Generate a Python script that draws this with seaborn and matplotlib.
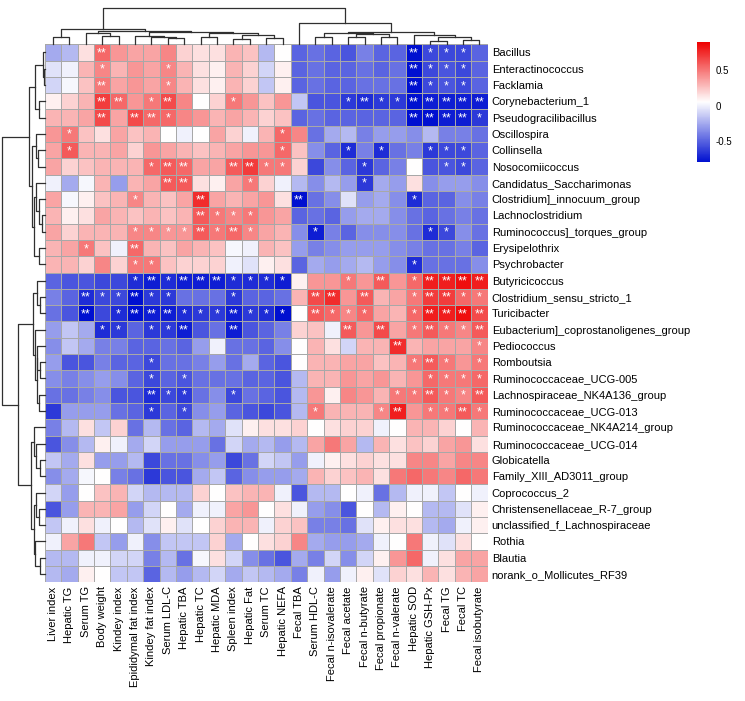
import numpy as np
import pandas as pd
import matplotlib
matplotlib.use("Agg")
import matplotlib.pyplot as plt
import seaborn as sns
from matplotlib.colors import LinearSegmentedColormap

# -----------------------------
# DATA (order as displayed after clustering)
# -----------------------------
genera = [
    "Bacillus", "Enteractinococcus", "Facklamia", "Corynebacterium_1",
    "Pseudogracilibacillus", "Oscillospira", "Collinsella", "Nosocomiicoccus",
    "Candidatus_Saccharimonas", "Clostridium]_innocuum_group", "Lachnoclostridium",
    "Ruminococcus]_torques_group", "Erysipelothrix", "Psychrobacter",
    "Butyricicoccus", "Clostridium_sensu_stricto_1", "Turicibacter",
    "Eubacterium]_coprostanoligenes_group", "Pediococcus", "Romboutsia",
    "Ruminococcaceae_UCG-005", "Lachnospiraceae_NK4A136_group",
    "Ruminococcaceae_UCG-013", "Ruminococcaceae_NK4A214_group",
    "Ruminococcaceae_UCG-014", "Globicatella", "Family_XIII_AD3011_group",
    "Coprococcus_2", "Christensenellaceae_R-7_group",
    "unclassified_f_Lachnospiraceae", "Rothia", "Blautia",
    "norank_o_Mollicutes_RF39",
]

measures = [
    "Liver index", "Hepatic TG", "Serum TG", "Body weight", "Kindey index",
    "Epididymal fat index", "Kindey fat index", "Serum LDL-C", "Hepatic TBA",
    "Hepatic TC", "Hepatic MDA", "Spleen index", "Hepatic Fat", "Serum TC",
    "Hepatic NEFA", "Fecal TBA", "Serum HDL-C", "Fecal n-isovalerate",
    "Fecal acetate", "Fecal n-butyrate", "Fecal propionate", "Fecal n-valerate",
    "Hepatic SOD", "Hepatic GSH-Px", "Fecal TG", "Fecal TC", "Fecal isobutyrate",
]

rho = [
    [-0.25, -0.2, 0.15, 0.55, 0.4, 0.35, 0.35, 0.45, 0.2, 0.15, 0.15, 0.3, 0.25, -0.2, 0.05, -0.5, -0.45, -0.5, -0.55, -0.4, -0.5, -0.5, -0.8, -0.6, -0.6, -0.6, -0.5],
    [-0.05, 0.0, 0.3, 0.45, 0.3, 0.4, 0.35, 0.45, 0.3, 0.15, 0.1, 0.3, 0.2, -0.1, 0.1, -0.5, -0.45, -0.5, -0.5, -0.45, -0.5, -0.45, -0.8, -0.6, -0.55, -0.6, -0.5],
    [-0.1, 0.02, 0.25, 0.5, 0.35, 0.4, 0.35, 0.45, 0.3, 0.15, 0.1, 0.3, 0.2, -0.15, 0.1, -0.5, -0.45, -0.5, -0.5, -0.45, -0.45, -0.45, -0.8, -0.6, -0.55, -0.6, -0.5],
    [0.1, 0.2, 0.3, 0.7, 0.55, 0.4, 0.5, 0.65, 0.45, 0.05, 0.2, 0.5, 0.4, 0.25, 0.4, -0.15, -0.55, -0.55, -0.65, -0.7, -0.65, -0.65, -0.8, -0.75, -0.75, -0.75, -0.75],
    [0.3, 0.3, 0.35, 0.65, 0.35, 0.65, 0.55, 0.55, 0.45, 0.4, 0.3, 0.35, 0.3, 0.2, 0.25, -0.5, -0.45, -0.5, -0.5, -0.5, -0.5, -0.5, -0.8, -0.8, -0.75, -0.75, -0.65],
    [0.4, 0.5, 0.25, 0.15, 0.35, 0.25, 0.3, 0.05, 0.0, 0.05, 0.35, 0.2, 0.0, 0.3, 0.55, 0.45, -0.45, -0.25, -0.2, -0.4, -0.3, -0.3, -0.35, -0.2, -0.4, -0.4, -0.45],
    [0.35, 0.6, 0.3, 0.3, 0.35, 0.2, 0.4, 0.35, 0.3, 0.25, 0.3, 0.35, 0.4, 0.4, 0.55, 0.25, -0.35, -0.5, -0.7, -0.4, -0.7, -0.45, -0.4, -0.65, -0.6, -0.6, -0.5],
    [0.35, 0.2, 0.25, 0.3, 0.3, 0.3, 0.55, 0.6, 0.55, 0.35, 0.35, 0.6, 0.7, 0.5, 0.5, 0.2, -0.6, -0.35, -0.5, -0.65, -0.5, -0.4, 0.05, -0.55, -0.55, -0.6, -0.5],
    [0.0, -0.25, 0.02, 0.3, -0.3, 0.3, 0.35, 0.6, 0.6, 0.15, 0.1, 0.35, 0.5, 0.2, 0.0, -0.2, -0.35, -0.2, -0.3, -0.65, -0.25, -0.3, 0.15, -0.35, -0.3, -0.3, -0.35],
    [0.35, 0.02, 0.1, 0.25, 0.3, 0.45, 0.3, 0.25, 0.35, 0.75, 0.35, 0.3, 0.35, 0.4, 0.15, -0.8, -0.45, -0.35, -0.05, -0.3, -0.25, -0.35, -0.7, -0.5, -0.5, -0.35, -0.4],
    [0.3, 0.1, 0.15, 0.35, 0.3, 0.25, 0.3, 0.25, 0.3, 0.6, 0.5, 0.45, 0.5, 0.4, 0.35, -0.5, -0.45, -0.5, -0.3, -0.25, -0.25, -0.35, -0.45, -0.5, -0.45, -0.4, -0.45],
    [0.35, 0.2, 0.3, 0.3, 0.3, 0.45, 0.45, 0.4, 0.4, 0.6, 0.5, 0.55, 0.45, 0.35, 0.3, -0.35, -0.75, -0.4, -0.5, -0.35, -0.35, -0.35, -0.45, -0.7, -0.6, -0.35, -0.45],
    [0.3, 0.35, 0.5, 0.25, 0.0, 0.55, 0.3, 0.25, 0.35, 0.3, 0.25, 0.02, 0.0, 0.3, 0.25, -0.3, -0.4, -0.35, -0.3, -0.3, -0.3, -0.35, -0.4, -0.45, -0.45, -0.4, -0.5],
    [0.3, 0.3, 0.2, 0.45, 0.2, 0.5, 0.5, 0.25, 0.2, 0.2, 0.2, 0.0, -0.05, 0.1, 0.15, -0.5, -0.25, -0.3, -0.25, -0.2, -0.3, -0.35, -0.7, -0.45, -0.45, -0.45, -0.35],
    [-0.5, -0.55, -0.55, -0.6, -0.6, -0.7, -0.75, -0.7, -0.75, -0.75, -0.75, -0.7, -0.7, -0.7, -0.75, 0.1, 0.4, 0.4, 0.5, 0.4, 0.6, 0.4, 0.55, 0.8, 0.8, 0.85, 0.8],
    [-0.4, -0.5, -0.7, -0.6, -0.6, -0.8, -0.65, -0.65, -0.45, -0.45, -0.45, -0.65, -0.5, -0.5, -0.45, 0.3, 0.65, 0.75, 0.4, 0.6, 0.3, 0.35, 0.5, 0.7, 0.7, 0.55, 0.5],
    [-0.45, -0.55, -0.8, -0.6, -0.7, -0.8, -0.75, -0.75, -0.7, -0.65, -0.65, -0.75, -0.65, -0.7, -0.8, 0.05, 0.6, 0.55, 0.45, 0.55, 0.35, 0.3, 0.55, 0.8, 0.8, 0.85, 0.65],
    [-0.3, -0.15, -0.25, -0.7, -0.65, -0.5, -0.65, -0.65, -0.75, -0.55, -0.45, -0.75, -0.55, -0.5, -0.4, 0.2, 0.25, 0.0, 0.6, 0.4, 0.65, 0.35, 0.5, 0.6, 0.5, 0.45, 0.6],
    [-0.35, -0.15, -0.25, -0.4, -0.4, -0.5, -0.5, -0.45, -0.5, -0.3, 0.0, -0.45, -0.45, -0.5, -0.35, 0.05, 0.3, 0.15, -0.1, 0.3, 0.3, 0.75, 0.3, 0.35, 0.35, 0.35, 0.45],
    [-0.3, -0.55, -0.55, -0.4, -0.5, -0.5, -0.6, -0.45, -0.45, -0.4, -0.3, -0.45, -0.25, -0.5, -0.55, 0.05, 0.3, 0.3, 0.35, 0.35, 0.25, 0.3, 0.5, 0.6, 0.5, 0.4, 0.5],
    [-0.35, -0.4, -0.35, -0.3, -0.35, -0.5, -0.6, -0.5, -0.55, -0.45, -0.45, -0.45, -0.5, -0.5, -0.55, -0.2, 0.3, 0.3, 0.4, 0.35, 0.4, 0.3, 0.4, 0.55, 0.5, 0.5, 0.55],
    [-0.45, -0.45, -0.4, -0.35, -0.55, -0.55, -0.7, -0.6, -0.65, -0.45, -0.35, -0.6, -0.45, -0.5, -0.55, -0.2, 0.4, 0.1, 0.45, 0.4, 0.3, 0.5, 0.5, 0.6, 0.5, 0.45, 0.6],
    [-0.65, -0.3, -0.3, -0.3, -0.45, -0.5, -0.65, -0.5, -0.6, -0.35, -0.3, -0.5, -0.55, -0.6, -0.55, -0.2, 0.5, 0.3, 0.3, 0.3, 0.45, 0.8, 0.4, 0.5, 0.5, 0.6, 0.5],
    [-0.4, -0.2, 0.15, -0.15, 0.2, -0.45, -0.2, -0.45, -0.5, -0.2, -0.25, -0.05, 0.1, 0.15, 0.15, 0.2, 0.05, 0.15, 0.2, 0.2, 0.0, 0.05, 0.3, 0.3, 0.2, 0.05, 0.3],
    [-0.55, -0.35, -0.2, 0.1, 0.0, -0.25, -0.1, -0.3, -0.3, -0.3, -0.45, -0.1, -0.25, -0.2, -0.3, -0.2, 0.35, 0.5, 0.35, -0.2, 0.3, 0.15, 0.25, 0.2, 0.35, 0.4, 0.15],
    [-0.15, -0.25, 0.15, -0.3, -0.3, -0.2, -0.6, -0.45, -0.45, -0.35, -0.3, -0.6, -0.45, -0.1, -0.15, -0.3, 0.0, 0.1, 0.15, 0.2, 0.15, 0.15, 0.45, 0.45, 0.35, 0.45, 0.45],
    [-0.35, -0.25, 0.02, 0.05, -0.4, -0.45, -0.65, -0.55, -0.55, -0.25, -0.15, -0.5, -0.35, -0.3, -0.3, -0.25, 0.3, 0.2, 0.25, 0.3, 0.15, 0.5, 0.55, 0.5, 0.45, 0.55, 0.5],
    [-0.1, -0.3, 0.05, 0.25, 0.3, -0.1, -0.2, -0.2, -0.2, 0.2, 0.05, 0.25, 0.3, 0.3, 0.0, -0.55, -0.2, -0.2, 0.05, 0.0, -0.45, -0.2, 0.0, 0.0, -0.15, 0.05, 0.0],
    [-0.55, -0.3, 0.3, 0.3, 0.35, -0.3, -0.1, 0.05, -0.25, 0.0, 0.0, 0.35, 0.4, 0.05, 0.15, 0.0, -0.3, -0.35, -0.55, 0.05, -0.2, 0.1, 0.05, -0.2, -0.2, -0.05, 0.1],
    [-0.15, 0.0, 0.15, 0.0, 0.05, -0.2, -0.05, 0.1, -0.05, 0.05, 0.2, 0.3, 0.3, 0.0, 0.2, 0.25, -0.4, -0.4, -0.45, -0.05, 0.1, 0.15, 0.15, -0.2, -0.25, 0.0, 0.1],
    [0.0, 0.35, 0.5, -0.15, -0.3, 0.0, -0.35, -0.15, -0.15, -0.15, 0.2, -0.25, 0.05, 0.15, 0.2, 0.45, -0.25, -0.3, -0.3, -0.25, 0.0, 0.05, 0.5, 0.0, -0.05, 0.15, 0.05],
    [-0.2, -0.2, 0.0, 0.0, -0.1, -0.1, -0.4, -0.2, -0.45, 0.02, 0.15, -0.1, -0.35, -0.45, -0.55, -0.25, -0.4, -0.1, -0.35, -0.1, 0.1, 0.4, 0.55, 0.0, 0.15, 0.35, 0.35],
    [-0.2, -0.25, 0.1, 0.05, -0.15, -0.15, -0.5, -0.2, -0.3, -0.2, -0.1, -0.25, -0.15, -0.2, -0.25, -0.4, 0.0, -0.3, 0.0, 0.1, -0.05, 0.2, 0.15, 0.3, 0.15, 0.3, 0.35],
]

# significance marks per row, "col:n" -> n stars
stars = [
    "3:2 22:2 23:1 24:1 25:1",
    "3:1 7:1 22:2 23:1 24:1 25:1",
    "3:2 7:1 22:2 23:1 24:1 25:1",
    "3:2 4:2 6:1 7:2 11:1 18:1 19:2 20:1 21:1 22:2 23:2 24:2 25:2 26:2",
    "3:2 5:2 6:2 7:1 22:2 23:2 24:2 25:2 26:1",
    "1:1 14:1",
    "1:1 14:1 18:1 20:1 23:1 24:1 25:1",
    "6:1 7:2 8:2 11:2 12:2 13:1 14:1 19:1 24:1 25:1",
    "7:2 8:2 12:1 19:1",
    "5:1 9:2 15:2 22:1",
    "9:2 10:1 11:1 12:1",
    "5:1 6:1 7:1 8:1 9:2 10:1 11:2 12:1 16:1 23:1 24:1",
    "2:1 5:2",
    "5:1 6:1 22:1",
    "5:1 6:2 7:1 8:2 9:2 10:2 11:1 12:1 13:1 14:1 18:1 20:2 22:1 23:2 24:2 25:2 26:2",
    "2:2 3:1 4:1 5:2 6:1 7:1 11:1 16:2 17:2 19:2 22:1 23:2 24:2 25:1 26:1",
    "2:2 4:1 5:2 6:2 7:2 8:1 9:1 10:1 11:2 12:1 13:1 14:1 16:2 17:1 18:1 19:1 22:1 23:2 24:2 25:2 26:2",
    "3:1 4:1 6:1 7:1 8:2 11:2 18:2 20:2 22:1 23:2 24:1 25:1 26:2",
    "21:2 26:1",
    "6:1 22:1 23:2 24:1 26:1",
    "6:1 8:1 23:1 24:1 25:1 26:1",
    "6:2 7:1 8:1 11:1 21:1 22:1 23:2 24:1 25:1 26:2",
    "6:1 8:1 16:1 20:1 21:2 23:1 24:1 25:2 26:1",
    "", "", "", "", "", "", "", "", "", "",
]

# dendrogram merges (left id, right id, height in px); ids >= n are earlier merges
row_tree = [
    (1, 2, 0.8), (0, 33, 2.0), (3, 4, 5.4), (34, 35, 9.7),
    (6, 7, 6.4), (5, 37, 9.0), (10, 11, 3.0), (9, 39, 5.4), (8, 40, 8.5),
    (12, 13, 5.4), (41, 42, 10.7), (38, 43, 12.4), (36, 44, 15.4),
    (15, 16, 4.7), (14, 46, 7.4), (19, 20, 4.7), (18, 48, 7.4), (21, 22, 5.4),
    (49, 50, 8.0), (17, 51, 9.7), (47, 52, 12.0),
    (25, 26, 4.7), (24, 54, 8.5), (23, 55, 10.5), (28, 29, 5.4), (27, 57, 8.7),
    (31, 32, 4.7), (30, 59, 9.7), (58, 60, 11.0), (56, 61, 14.0),
    (53, 62, 26.4), (45, 63, 42.5),
]
col_tree = [
    (0, 1, 7.6), (3, 4, 8.3), (2, 28, 11.0), (7, 8, 6.0), (6, 30, 7.0),
    (5, 31, 8.3), (9, 10, 7.0), (11, 12, 5.0), (13, 14, 6.3), (34, 35, 9.0),
    (33, 36, 11.0), (32, 37, 12.6), (29, 38, 13.6), (27, 39, 15.0),
    (16, 17, 7.0), (18, 19, 7.6), (20, 21, 7.6), (42, 43, 10.3), (41, 44, 11.6),
    (23, 24, 3.3), (25, 26, 4.0), (46, 47, 7.0), (22, 48, 9.3), (45, 49, 12.6),
    (15, 50, 21.0), (40, 51, 36.0),
]

df = pd.DataFrame(rho, index=genera, columns=measures)

# -----------------------------
# FIGURE
# -----------------------------
plt.rcParams['font.family'] = ['Liberation Sans', 'DejaVu Sans']
W, H = 745, 701
fig = plt.figure(figsize=(W / 100, H / 100), dpi=100)

hx0, hy0, hx1, hy1 = 44.7, 44.3, 487.5, 582.2   # heatmap box in px
def box(x0, y0, x1, y1):
    return [x0 / W, 1 - y1 / H, (x1 - x0) / W, (y1 - y0) / H]

ax = fig.add_axes(box(hx0, hy0, hx1, hy1))
cax = fig.add_axes(box(697, 42, 710, 162))
ax_top = fig.add_axes(box(hx0, 0, hx1, hy0))
ax_left = fig.add_axes(box(0, hy0, hx0, hy1))

cmap = LinearSegmentedColormap.from_list("bwr_custom", ["#0010D0", "#FFFFFF", "#EE0000"])
sns.heatmap(df, ax=ax, cmap=cmap, vmin=-0.8, vmax=0.9,
            linewidths=0.6, linecolor="#A8A8A8", cbar_ax=cax,
            cbar_kws={"ticks": [-0.5, 0, 0.5]})

for r, s in enumerate(stars):
    for item in s.split():
        c, n = item.split(":")
        ax.text(int(c) + 0.5, r + 0.56, "*" * int(n), ha="center", va="center",
                color="white", fontsize=9)

ax.yaxis.tick_right()
ax.set_yticks(np.arange(len(genera)) + 0.5)
ax.set_yticklabels(genera, rotation=0, fontsize=8)
ax.set_xticks(np.arange(len(measures)) + 0.5)
ax.set_xticklabels(measures, rotation=90, fontsize=8)
ax.tick_params(length=0, pad=3)
ax.set_xlabel("")
ax.set_ylabel("")

cax.tick_params(length=0, labelsize=7, pad=4)
cax.set_yticklabels(["-0.5", "0", "0.5"])
for sp in cax.spines.values():
    sp.set_visible(False)


# -----------------------------
# DENDROGRAMS
# -----------------------------
def draw_tree(axis, merges, n, side):
    pos = list(np.arange(n) + 0.5)
    hgt = [0.0] * n
    for a, b, h in merges:
        p = [pos[a], pos[a], pos[b], pos[b]]
        q = [hgt[a], h, h, hgt[b]]
        if side == "top":
            axis.plot(p, q, color="#303030", lw=0.9, clip_on=False)
        else:
            axis.plot(q, p, color="#303030", lw=0.9, clip_on=False)
        pos.append((pos[a] + pos[b]) / 2)
        hgt.append(h)


draw_tree(ax_top, col_tree, len(measures), "top")
ax_top.set_xlim(0, len(measures))
ax_top.set_ylim(0, hy0)
ax_top.axis("off")

draw_tree(ax_left, row_tree, len(genera), "left")
ax_left.set_ylim(len(genera), 0)
ax_left.set_xlim(hx0, 0)
ax_left.axis("off")

fig.savefig("out.png", dpi=100)
